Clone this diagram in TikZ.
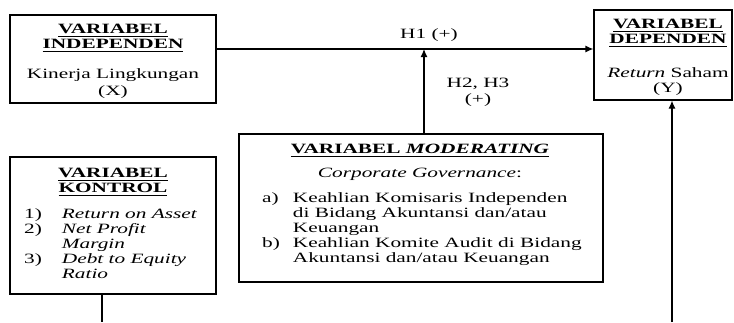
\documentclass[tikz,border=0pt]{standalone}
\usepackage{fontspec}
\setmainfont[FakeStretch=1.5]{Liberation Serif}
\usetikzlibrary{arrows.meta}
\newcommand{\myul}[1]{\underline{#1\rule[-1.6pt]{0pt}{0pt}}}
\begin{document}
\begin{tikzpicture}[x=1pt,y=-1pt,
  box/.style={draw,line width=1.2pt,inner sep=0pt},
  txt/.style={inner sep=0pt,font=\fontsize{14.2}{15}\selectfont},
  conn/.style={line width=1.2pt},
  arr/.style={conn,-{Latex[length=8pt,width=7pt]}}]
\useasboundingbox (0,0) rectangle (734,322);
% boxes
\node[box,minimum width=206pt,minimum height=88pt] (ind) at (113,59) {};
\node[box,minimum width=138pt,minimum height=90pt] (dep) at (663,55) {};
\node[box,minimum width=206pt,minimum height=137pt] (kon) at (113,225.5) {};
\node[box,minimum width=364pt,minimum height=148pt] (mod) at (421,208) {};
% independen
\node[txt,anchor=base] (indA) at (113,33) {\textbf{\myul{VARIABEL}}};
\node[txt,anchor=base] (indB) at (113,48) {\textbf{\myul{INDEPENDEN}}};
\node[txt,anchor=base] (indC) at (113,78) {Kinerja Lingkungan};
\node[txt,anchor=base] (indD) at (113,95) {(X)};
% dependen
\node[txt,anchor=base] (depA) at (668,28) {\textbf{\myul{VARIABEL}}};
\node[txt,anchor=base] (depB) at (668,43) {\textbf{\myul{DEPENDEN}}};
\node[txt,anchor=base] (depC) at (668,77) {\textit{Return} Saham};
\node[txt,anchor=base] (depD) at (668,92) {(Y)};
% kontrol
\node[txt,anchor=base] (konA) at (113,177) {\textbf{\myul{VARIABEL}}};
\node[txt,anchor=base] (konB) at (113,192) {\textbf{\myul{KONTROL}}};
\node[txt,anchor=base west] (konL) at (24,218) {\renewcommand{\arraystretch}{1}%
  \begin{tabular}[t]{@{}l@{\hspace{20pt}}l@{}}
  1) & \textit{Return on Asset}\\
  2) & \textit{Net Profit}\\
     & \textit{Margin}\\
  3) & \textit{Debt to Equity}\\
     & \textit{Ratio}
  \end{tabular}};
% moderating
\node[txt,anchor=base] (modA) at (420,153) {\textbf{\myul{VARIABEL \textit{MODERATING}}}};
\node[txt,anchor=base] (modB) at (420,177) {\textit{Corporate Governance}:};
\node[txt,anchor=base west] (modL) at (262,202) {\renewcommand{\arraystretch}{1}%
  \begin{tabular}[t]{@{}l@{\hspace{13pt}}l@{}}
  a) & Keahlian Komisaris Independen\\
     & di Bidang Akuntansi dan/atau\\
     & Keuangan\\
  b) & Keahlian Komite Audit di Bidang\\
     & Akuntansi dan/atau Keuangan
  \end{tabular}};
% labels
\node[txt,anchor=base] (h1) at (429,38) {H1 (+)};
\node[txt,anchor=base] (h2) at (478,87) {H2, H3};
\node[txt,anchor=base] (h2b) at (478,103) {(+)};
% connectors
\coordinate (hy) at (0,49);
\coordinate (mx) at (424,0);
\coordinate (kb) at (102,322);
\coordinate (db) at (672,322);
\draw[arr] (ind.east |- hy) -- (dep.west |- hy);
\draw[arr] (mod.north -| mx) -- (hy -| mx);
\draw[conn] (kon.south -| kb) -- (kb);
\draw[arr] (db) -- (db |- dep.south);
\end{tikzpicture}
\end{document}
